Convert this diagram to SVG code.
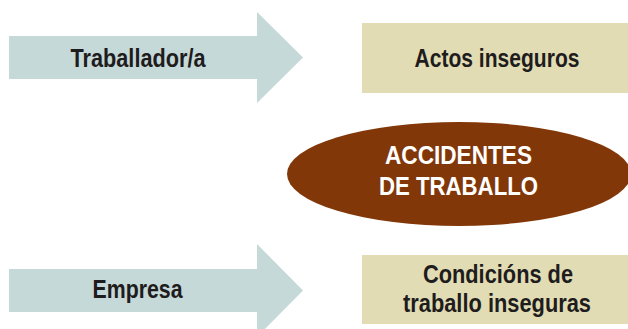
<svg xmlns="http://www.w3.org/2000/svg" width="628" height="329" viewBox="0 0 628 329">
<defs>
<style>
.arrow{fill:#c5d9d8;}
.box{fill:#e1dcb3;}
.oval{fill:#823708;}
.t{font-family:"Liberation Sans",Arial,sans-serif;font-weight:bold;font-size:26px;fill:#1f1c1d;text-anchor:middle;}
.w{fill:#ffffff;}
</style>
</defs>
<rect width="628" height="329" fill="#ffffff"/>
<g id="connectors">
<polygon id="arrow-traballador" class="arrow" points="9,36 257,36 257,12 303,57.5 257,103 257,79 9,79"/>
<polygon id="arrow-empresa" class="arrow" points="9,269 257,269 257,244 303,290.5 257,337 257,312 9,312"/>
</g>
<g id="node-traballador">
<text class="t" x="138" y="67" textLength="135" lengthAdjust="spacingAndGlyphs">Traballador/a</text>
</g>
<g id="node-empresa">
<text class="t" x="137.5" y="298" textLength="90" lengthAdjust="spacingAndGlyphs">Empresa</text>
</g>
<g id="node-actos">
<rect class="box" x="362" y="23" width="266" height="70"/>
<text class="t" x="497" y="67" textLength="165" lengthAdjust="spacingAndGlyphs">Actos inseguros</text>
</g>
<g id="node-condicions">
<rect class="box" x="362" y="255" width="266" height="69"/>
<text class="t" x="498" y="283" textLength="150" lengthAdjust="spacingAndGlyphs">Condicións de</text>
<text class="t" x="497" y="312" textLength="188" lengthAdjust="spacingAndGlyphs">traballo inseguras</text>
</g>
<g id="node-accidentes">
<ellipse class="oval" cx="459" cy="174" rx="172" ry="52"/>
<text class="t w" x="458.5" y="164" textLength="147" lengthAdjust="spacingAndGlyphs">ACCIDENTES</text>
<text class="t w" x="458.5" y="195" textLength="159" lengthAdjust="spacingAndGlyphs">DE TRABALLO</text>
</g>
</svg>
